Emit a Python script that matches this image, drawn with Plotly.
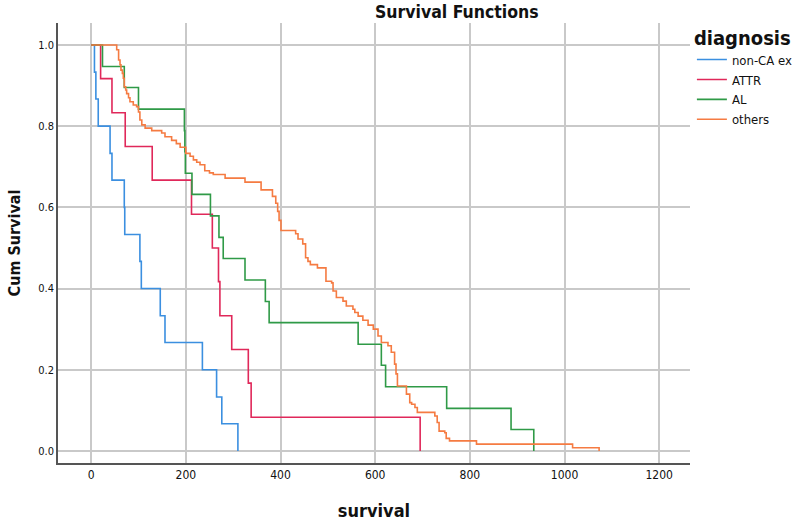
import plotly.graph_objects as go

# ---- data ----
noncaex_time = [0, 7, 10, 15, 40, 44, 70, 71, 103, 106, 146, 156, 235, 265, 276, 310]
noncaex_surv = [1.0, 0.933, 0.867, 0.800, 0.733, 0.667, 0.600, 0.533, 0.467, 0.400,
                0.333, 0.267, 0.200, 0.133, 0.067, 0.0]

attr_time = [0, 20, 44, 72, 129, 212, 256, 269, 272, 297, 332, 338, 695]
attr_surv = [1.0, 0.917, 0.833, 0.750, 0.667, 0.583, 0.500, 0.417, 0.333, 0.250,
             0.167, 0.083, 0.0]

al_time = [0, 24, 70, 100, 197, 198, 199, 213, 252, 270, 279, 325, 368, 376, 564,
           613, 622, 751, 887, 935]
al_surv = [1.0, 0.947, 0.895, 0.842, 0.789, 0.737, 0.684, 0.632, 0.579, 0.526, 0.474,
           0.421, 0.368, 0.316, 0.263, 0.211, 0.158, 0.105, 0.053, 0.0]

others_time = [0, 54, 58, 61, 63, 66, 68, 70, 73, 75, 79, 82, 89, 96, 100, 103, 107,
               114, 128, 149, 156, 170, 180, 188, 200, 209, 216, 223, 230, 240, 250,
               258, 283, 325, 359, 383, 390, 394, 397, 401, 432, 437, 447, 453, 458,
               463, 478, 496, 508, 511, 518, 532, 539, 553, 557, 564, 574, 585, 596,
               606, 613, 627, 634, 641, 644, 647, 666, 673, 677, 684, 689, 726, 731,
               735, 747, 750, 757, 814, 1017, 1073]
others_surv = [1.0, 0.988, 0.963, 0.951, 0.938, 0.930, 0.918, 0.897, 0.889, 0.880,
               0.870, 0.860, 0.852, 0.848, 0.835, 0.815, 0.803, 0.795, 0.789, 0.783,
               0.774, 0.765, 0.757, 0.748, 0.733, 0.726, 0.717, 0.711, 0.705, 0.690,
               0.685, 0.681, 0.672, 0.662, 0.643, 0.627, 0.610, 0.590, 0.568, 0.543,
               0.535, 0.522, 0.510, 0.476, 0.467, 0.459, 0.451, 0.418, 0.414, 0.394,
               0.378, 0.369, 0.357, 0.349, 0.341, 0.332, 0.322, 0.310, 0.300, 0.283,
               0.267, 0.259, 0.243, 0.214, 0.190, 0.160, 0.140, 0.119, 0.115, 0.107,
               0.095, 0.086, 0.070, 0.049, 0.045, 0.031, 0.025, 0.017, 0.008, 0.0]

series_names = ["non-CA ex", "ATTR", "AL", "others"]
series_times = [noncaex_time, attr_time, al_time, others_time]
series_survs = [noncaex_surv, attr_surv, al_surv, others_surv]
series_colors = ["#3b8fe0", "#e0285a", "#2f9a47", "#f57b42"]

x_ticks = [0, 200, 400, 600, 800, 1000, 1200]
y_ticks = [0.0, 0.2, 0.4, 0.6, 0.8, 1.0]

FONT = "Liberation Sans Narrow, DejaVu Sans Condensed, Arial Narrow, sans-serif"

fig = go.Figure()
for name, t, s, c in zip(series_names, series_times, series_survs, series_colors):
    fig.add_trace(go.Scatter(x=t, y=s, mode="lines", name=name,
                             line=dict(color=c, width=1.6, shape="hv")))

fig.update_layout(
    width=800, height=527,
    margin=dict(l=58, r=110, t=23, b=64, autoexpand=False),
    paper_bgcolor="white", plot_bgcolor="white",
    font=dict(family=FONT, color="#111111"),
    title=dict(text="<b>Survival Functions</b>", x=0.571, xref="container",
               xanchor="center", y=0.977, yref="container", yanchor="middle",
               font=dict(size=17.5, family=FONT, color="#111111")),
    showlegend=True,
    legend=dict(x=1.003, y=1.01, xanchor="left", yanchor="top",
                title=dict(text="<b>diagnosis</b>", font=dict(size=20, family=FONT)),
                font=dict(size=13, family=FONT), itemwidth=30,
                bgcolor="rgba(0,0,0,0)"),
)

fig.update_xaxes(range=[-70, 1265], tickvals=x_ticks, ticks="",
                 showgrid=True, gridcolor="#c9c9c9", gridwidth=1.6,
                 zeroline=False, showline=True, linecolor="#555555", linewidth=1.5,
                 tickfont=dict(size=12, family=FONT),
                 title=dict(text="<b>survival</b>", font=dict(size=18, family=FONT),
                            standoff=23))
fig.update_yaxes(range=[-0.0296, 1.054], tickvals=y_ticks, tickformat=".1f", ticks="",
                 showgrid=True, gridcolor="#c9c9c9", gridwidth=1.6,
                 zeroline=False, showline=True, linecolor="#555555", linewidth=1.5,
                 tickfont=dict(size=11, family=FONT),
                 title=dict(text="<b>Cum Survival</b>", font=dict(size=16, family=FONT),
                            standoff=14))

fig.write_html("out.html")
